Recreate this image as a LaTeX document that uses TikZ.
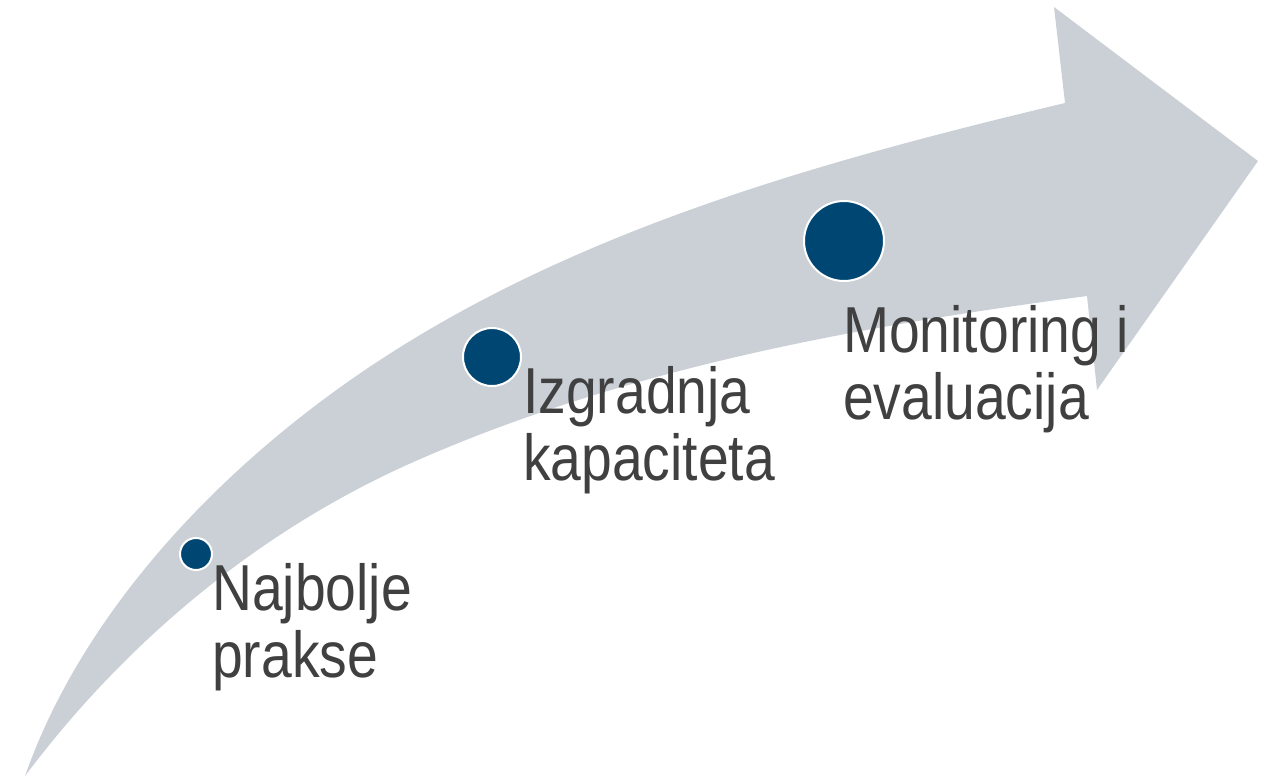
\documentclass[tikz,border=0pt]{standalone}
\usepackage{fontspec}
\setmainfont[FakeStretch=0.85]{Liberation Sans}
\usepackage{tikz}
\definecolor{arrowgray}{HTML}{CBD0D7}
\definecolor{dotblue}{HTML}{004673}
\definecolor{textgray}{HTML}{404040}

\begin{document}
\begin{tikzpicture}[x=1pt,y=-1pt,
    dot/.style={circle,fill=dotblue,draw=white,line width=2pt,inner sep=0pt},
    steptext/.style={anchor=north west,inner sep=0pt,align=left,text=textgray,
      font=\fontsize{65}{67}\selectfont}]
    \useasboundingbox (0,0) rectangle (1273,777);

    % the curved arrow
    \fill[arrowgray] (25,776) .. controls (83,611) and (220,468) .. (365,370)
      .. controls (572,230) and (822,161) .. (1065,103)
      -- (1054,7) -- (1258,161) -- (1097,390) -- (1087,296)
      .. controls (859,326) and (628,368) .. (418,460)
      .. controls (262,528) and (127,640) .. (25,776) -- cycle;

    % dots
    \node[dot,minimum size=32pt] (best) at (196,554) {};
    \node[dot,minimum size=58pt] (capacity) at (492,357) {};
    \node[dot,minimum size=80pt] (monitor) at (844,241) {};

    % labels
    \node[steptext] (best-text) at (212,563) {Najbolje\\prakse};
    \node[steptext] (capacity-text) at (523,366) {Izgradnja\\kapaciteta};
    \node[steptext] (monitor-text) at (843,305) {Monitoring i\\evaluacija};

\end{tikzpicture}
\end{document}
